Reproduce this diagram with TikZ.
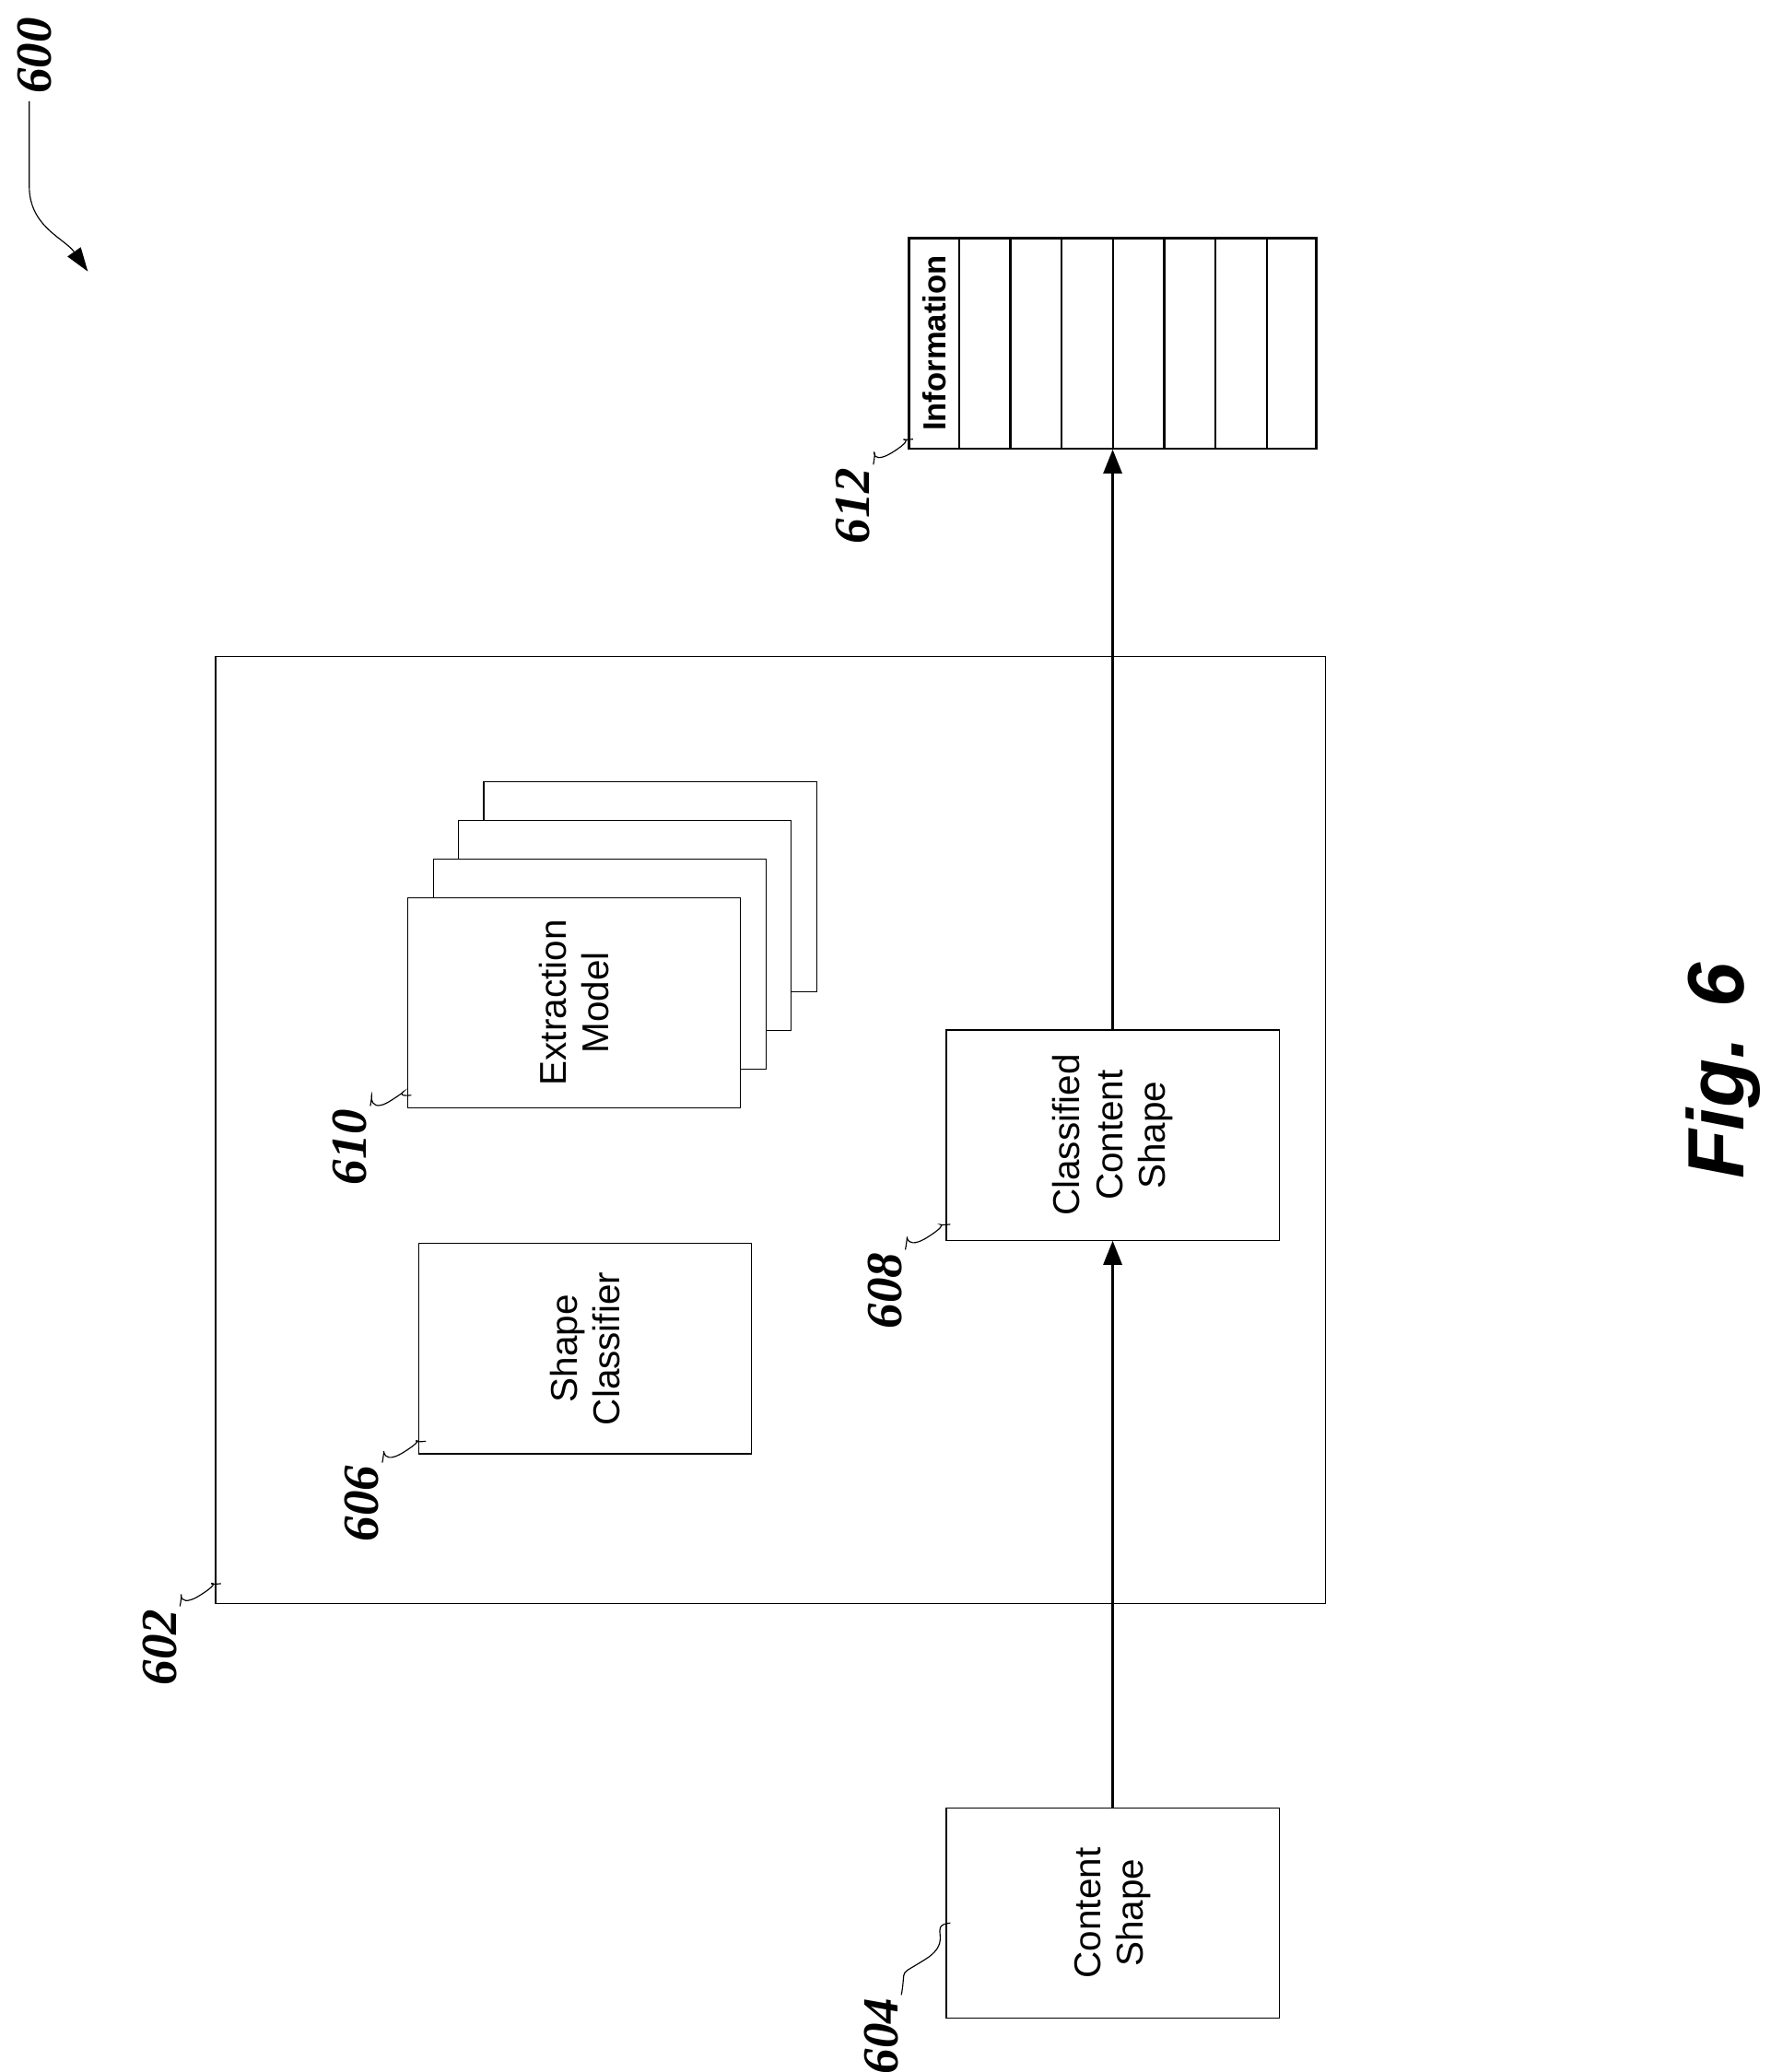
\documentclass[tikz,border=0pt]{standalone}
\usepackage{fontspec}
\setmainfont{Liberation Sans}
\newfontfamily\numfont{Liberation Serif}
\usetikzlibrary{positioning, calc, arrows.meta}

\tikzset{
  blk/.style={draw, thin, rotate=90, minimum width=79pt, minimum height=125pt,
    align=center, fill=white, font=\fontsize{14}{16}\selectfont},
  refnum/.style={rotate=90, font=\numfont\bfseries\itshape\fontsize{19}{19}\selectfont, inner sep=1pt},
  flow/.style={-{Triangle[length=9pt,width=7pt]}, thick},
}
\newcommand{\squig}[2]{\draw (#1) .. controls +(4,-22) and +(-22,14) .. ($(#1)!0.5!(#2)$) .. controls +(22,-14) and +(-18,2) .. (#2);}

\begin{document}
\begin{tikzpicture}[x=0.5pt, y=-0.5pt]
  \useasboundingbox (0,0) rectangle (1330,1557);

  %% system box
  \node (sys) [draw, thin, minimum width=417pt, minimum height=356pt] at (579,849) {};

  %% blocks
  \node (content) [blk] at (836,1437.5) {Content\\Shape};
  \node (classified) [blk] at (836,853) {Classified\\Content\\Shape};
  \node (classifier) [blk] at (439.5,1013.5) {Shape\\Classifier};
  \foreach \k in {3,2,1}
    \node (ext\k) [blk] at ({431.5+19*\k},{753.5-29*\k}) {};
  \node (ext) [blk] at (431.5,753.5) {Extraction\\Model};

  %% information table
  \node (info) [draw, thick, minimum width=153pt, minimum height=79pt, inner sep=0pt] at (836,258) {};
  \foreach \i in {1,...,7}
    \draw [thick] ($(info.north west)+({38.5*\i},0)$) -- ($(info.south west)+({38.5*\i},0)$);
  \node [rotate=90, font=\bfseries\fontsize{12}{12}\selectfont] at (702,258) {Information};

  %% arrows
  \draw [flow] (content.east) -- (classified.west);
  \draw [flow] (classified.east) -- (info.south);

  %% reference numbers
  \node (l600) [refnum] at (26,42) {600};
  \coordinate (a600) at (22,76);
  \coordinate (t600) at (66,204);
  \draw [-{Triangle[length=9pt,width=6pt]}] (a600) -- (22,140) to[out=-90,in=125] (t600);

  \node (l602) [refnum] at (120,1238) {602};
  \node (l604) [refnum] at (662,1530) {604};
  \node (l606) [refnum] at (272,1130) {606};
  \node (l608) [refnum] at (665,970) {608};
  \node (l610) [refnum] at (263,862) {610};
  \node (l612) [refnum] at (641,380) {612};

  \coordinate (t602) at (166,1190);
  \coordinate (t604) at (714,1445);
  \coordinate (t606) at (320,1083);
  \coordinate (t608) at (714,920);
  \coordinate (t610) at (309,823);
  \coordinate (t612) at (686,330);
  \foreach \n in {602,604,606,608,610,612}{
    \squig{l\n.south east}{t\n}
  }

  \node (fig) [rotate=90, font=\bfseries\itshape\fontsize{30}{30}\selectfont] at (1295,805) {Fig. 6};
\end{tikzpicture}
\end{document}
